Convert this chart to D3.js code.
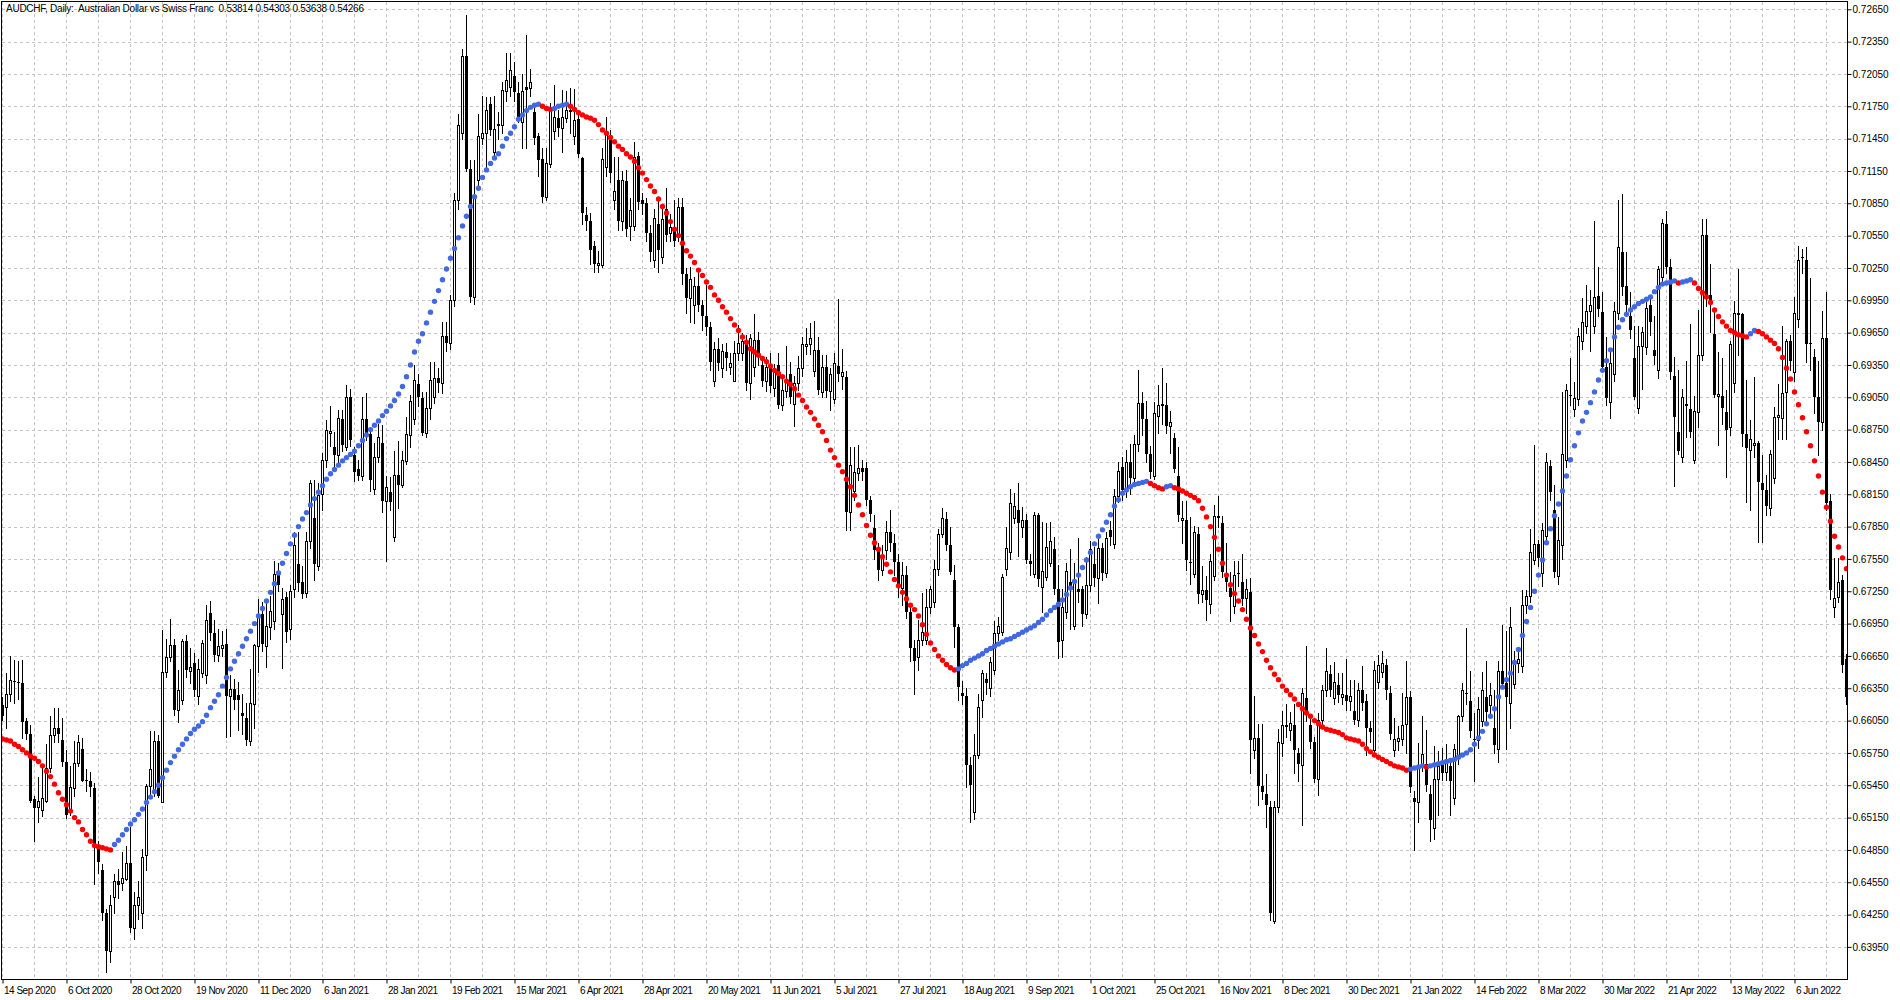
<!DOCTYPE html>
<html>
<head>
<meta charset="utf-8">
<script src="https://cdn.jsdelivr.net/npm/d3@7/dist/d3.min.js"></script>
<style>
html,body{margin:0;padding:0;background:#fff;}
svg{display:block;}
</style>
</head>
<body>
<svg id="chart" width="1900" height="1000"></svg>
<script>
// ---------------- DATA ----------------
const title = "AUDCHF, Daily:  Australian Dollar vs Swiss Franc  0.53814 0.54303 0.53638 0.54266";

// one label every 16 daily bars, starting at bar 0
const dateLabels = ["14 Sep 2020","6 Oct 2020","28 Oct 2020","19 Nov 2020","11 Dec 2020","6 Jan 2021","28 Jan 2021",
  "19 Feb 2021","15 Mar 2021","6 Apr 2021","28 Apr 2021","20 May 2021","11 Jun 2021","5 Jul 2021","27 Jul 2021",
  "18 Aug 2021","9 Sep 2021","1 Oct 2021","25 Oct 2021","16 Nov 2021","8 Dec 2021","30 Dec 2021","21 Jan 2022",
  "14 Feb 2022","8 Mar 2022","30 Mar 2022","21 Apr 2022","13 May 2022","6 Jun 2022"];

const priceTicks = [0.63950,0.64250,0.64550,0.64850,0.65150,0.65450,0.65750,0.66050,0.66350,0.66650,
  0.66950,0.67250,0.67550,0.67850,0.68150,0.68450,0.68750,0.69050,0.69350,0.69650,
  0.69950,0.70250,0.70550,0.70850,0.71150,0.71450,0.71750,0.72050,0.72350,0.72650];

// prices below are quoted in units of 0.0001 (e.g. 6619 = 0.6619)
const open4 = [
6619,6618,6630,6642,6641,6640,6605,6593,6532,6525, 6522,6530,6561,6592,6598,6587,6567,6520,6542,6566,
6579,6550,6549,6542,6486,6466,6426,6391,6441,6456, 6454,6458,6473,6413,6434,6426,6480,6544,6538,6586,
6529,6650,6664,6675,6615,6624,6679,6651,6658,6628, 6649,6647,6705,6686,6666,6672,6676,6628,6634,6629,
6612,6607,6586,6620,6674,6704,6674,6692,6697,6741, 6704,6720,6690,6727,6750,6734,6723,6772,6793,6748,
6815,6847,6872,6859,6851,6885,6859,6905,6851,6838, 6832,6885,6871,6820,6850,6863,6809,6817,6775,6833,
6824,6846,6870,6885,6917,6904,6872,6895,6905,6923, 6918,6962,6955,6995,7088,7150,7222,7117,6998,7107,
7146,7150,7177,7133,7159,7158,7189,7193,7203,7187, 7160,7193,7192,7170,7147,7126,7091,7121,7152,7164,
7155,7164,7172,7147,7163,7127,7074,7069,7045,7028, 7028,7119,7148,7088,7107,7069,7106,7064,7064,7129,
7088,7085,7057,7032,7066,7035,7080,7057,7062,7057, 7082,7019,6997,6991,7008,6991,6980,6970,6920,6950,
6932,6947,6933,6920,6946,6946,6954,6918,6933,6958, 6935,6920,6936,6914,6935,6898,6911,6927,6899,6918,
6932,6953,6954,6929,6949,6910,6933,6911,6903,6934, 6925,6924,6799,6818,6835,6839,6839,6810,6784,6763,
6745,6763,6780,6770,6752,6728,6740,6706,6672,6664, 6680,6680,6710,6715,6746,6778,6792,6768,6735,6692,
6631,6628,6564,6520,6573,6624,6644,6635,6652,6686, 6687,6746,6761,6793,6800,6785,6791,6753,6741,6796,
6729,6738,6751,6764,6727,6680,6706,6734,6693,6727, 6727,6704,6731,6750,6737,6765,6742,6782,6769,6813,
6840,6819,6845,6830,6862,6900,6885,6852,6832,6888, 6899,6898,6878,6867,6832,6791,6791,6752,6741,6778,
6722,6726,6713,6739,6795,6788,6738,6728,6711,6742, 6734,6719,6724,6578,6589,6544,6537,6525,6419,6525,
6584,6600,6596,6601,6575,6564,6626,6601,6585,6551, 6606,6633,6648,6626,6638,6627,6629,6623,6614,6606,
6633,6623,6598,6578,6641,6650,6657,6631,6578,6586, 6588,6602,6627,6533,6529,6563,6565,6537,6505,6551,
6565,6557,6563,6533,6571,6609,6631,6623,6588,6587, 6605,6627,6619,6598,6579,6651,6640,6621,6639,6658,
6656,6712,6721,6754,6769,6742,6776,6841,6800,6739, 6768,6847,6907,6894,6903,6957,6971,6985,6971,6999,
6984,6933,6901,6927,6983,7040,7008,6980,6941,6895, 6953,6952,6991,6949,6930,7017,7066,7026,6925,6873,
6850,6899,6894,6847,6891,6944,7056,7000,6964,6906, 6906,6891,6877,6918,6983,6982,6871,6856,6861,6863,
6825,6819,6802,6830,6887,6886,6910,6957,6928,6978, 7035,7032,6955,6942,6905,6882,6960,6809,6710,6720,
6735,6662];

const high4 = [
6627,6649,6665,6661,6660,6661,6607,6601,6535,6553, 6563,6583,6609,6617,6617,6607,6578,6563,6586,6592,
6589,6560,6557,6547,6493,6472,6430,6443,6463,6467, 6483,6489,6506,6446,6456,6486,6546,6595,6595,6592,
6689,6681,6699,6681,6652,6681,6684,6672,6668,6662, 6680,6712,6716,6698,6690,6688,6690,6647,6644,6641,
6630,6621,6653,6676,6718,6715,6718,6721,6753,6751, 6728,6724,6731,6780,6780,6748,6780,6828,6828,6825,
6853,6884,6897,6873,6893,6893,6916,6913,6859,6847, 6905,6909,6875,6863,6880,6879,6832,6831,6855,6864,
6855,6887,6907,6935,6927,6910,6910,6938,6938,6932, 6975,6975,7000,7095,7168,7228,7260,7125,7125,7168,
7185,7184,7184,7185,7170,7198,7224,7224,7216,7198, 7205,7241,7210,7173,7150,7136,7136,7178,7195,7172,
7190,7189,7192,7191,7170,7128,7082,7076,7050,7041, 7136,7165,7153,7128,7128,7115,7116,7090,7142,7133,
7095,7090,7065,7080,7088,7080,7099,7075,7088,7090, 7090,7025,7026,7017,7025,6995,7009,6975,6956,6960,
6954,6955,6946,6957,6972,6965,6963,6964,6982,6966, 6941,6942,6946,6936,6946,6926,6953,6938,6925,6943,
6961,6969,6974,6976,6961,6944,6944,6932,6946,6996, 6950,6929,6859,6859,6861,6847,6845,6813,6796,6770,
6768,6790,6800,6778,6760,6752,6748,6712,6680,6698, 6723,6727,6730,6754,6783,6802,6799,6785,6749,6695,
6642,6635,6571,6593,6630,6652,6649,6664,6697,6701, 6741,6785,6820,6816,6825,6803,6797,6760,6799,6798,
6789,6788,6789,6775,6749,6727,6751,6764,6751,6774, 6730,6757,6772,6766,6777,6770,6780,6790,6820,6845,
6850,6856,6862,6870,6930,6910,6902,6860,6901,6916, 6932,6918,6892,6872,6859,6809,6809,6794,6786,6785,
6748,6739,6760,6805,6813,6795,6770,6743,6753,6753, 6760,6736,6737,6628,6602,6602,6555,6530,6530,6597,
6614,6620,6613,6620,6580,6635,6674,6611,6590,6612, 6638,6672,6657,6659,6649,6649,6662,6643,6643,6640,
6656,6630,6605,6660,6666,6670,6662,6637,6607,6600, 6631,6660,6632,6540,6584,6609,6596,6545,6581,6577,
6580,6583,6570,6583,6610,6640,6691,6651,6612,6627, 6650,6660,6640,6633,6660,6694,6688,6710,6670,6672,
6726,6726,6783,6861,6773,6788,6853,6847,6824,6794, 6910,6917,6941,6919,6969,6997,7009,7005,7069,7026,
7003,6961,6951,6993,7088,7094,7040,7003,6971,6971, 6970,6996,6996,6980,7027,7070,7078,7033,6942,6930,
6913,6939,6973,6906,6986,7070,7070,7029,6986,6947, 6941,6912,6957,6994,7024,6983,6921,6884,6924,6864,
6851,6833,6856,6896,6917,6971,6959,6963,6998,7045, 7043,7044,7016,6950,6939,6985,7003,6815,6756,6756,
6740,6667];

const low4 = [
6606,6598,6623,6621,6625,6589,6588,6529,6493,6511, 6516,6529,6557,6585,6585,6563,6515,6517,6535,6563,
6549,6540,6535,6453,6464,6420,6372,6381,6426,6440, 6448,6457,6409,6402,6421,6413,6466,6537,6535,6534,
6529,6645,6660,6610,6604,6620,6645,6640,6628,6620, 6645,6640,6680,6660,6660,6665,6590,6591,6616,6596,
6593,6582,6582,6598,6650,6670,6655,6681,6690,6725, 6654,6678,6681,6720,6725,6719,6720,6765,6735,6745,
6800,6840,6860,6840,6845,6855,6856,6860,6827,6828, 6828,6865,6818,6815,6845,6799,6753,6800,6772,6802,
6822,6843,6859,6880,6897,6870,6868,6885,6900,6910, 6909,6948,6950,6990,7080,7145,7115,6993,6992,7100,
7140,7119,7148,7128,7145,7150,7180,7185,7180,7160, 7136,7136,7185,7140,7110,7086,7088,7119,7145,7147,
7133,7160,7150,7140,7128,7066,7060,7029,7021,7021, 7026,7110,7105,7080,7060,7060,7055,7051,7060,7080,
7075,7050,7031,7026,7021,7030,7050,7050,7045,7050, 7010,6983,6975,6974,6985,6967,6963,6930,6915,6930,
6924,6930,6927,6920,6940,6940,6912,6903,6925,6935, 6915,6911,6910,6906,6895,6893,6905,6900,6878,6912,
6925,6945,6945,6925,6908,6905,6905,6893,6900,6920, 6913,6782,6782,6810,6828,6828,6805,6790,6755,6735,
6740,6755,6762,6740,6720,6712,6700,6660,6630,6652, 6675,6676,6705,6710,6740,6775,6763,6741,6673,6624,
6620,6543,6511,6514,6570,6608,6630,6628,6648,6680, 6684,6740,6755,6788,6758,6775,6751,6740,6738,6730,
6706,6735,6748,6722,6663,6664,6700,6690,6690,6715, 6693,6700,6725,6730,6714,6735,6738,6768,6765,6808,
6810,6812,6815,6825,6855,6870,6845,6830,6829,6872, 6880,6872,6853,6836,6790,6770,6745,6732,6738,6714,
6715,6698,6705,6735,6785,6738,6725,6697,6705,6730, 6712,6705,6556,6570,6527,6532,6506,6420,6417,6520,
6572,6590,6587,6556,6549,6508,6605,6580,6548,6536, 6600,6628,6628,6620,6622,6620,6615,6615,6602,6600,
6615,6573,6585,6575,6635,6645,6625,6588,6572,6578, 6582,6575,6539,6485,6511,6558,6540,6493,6495,6517,
6550,6550,6517,6528,6565,6605,6620,6590,6549,6580, 6600,6605,6610,6575,6567,6635,6579,6598,6635,6650,
6650,6705,6715,6750,6748,6730,6770,6810,6738,6732, 6755,6840,6898,6888,6898,6950,6965,6948,6965,6980,
6928,6898,6886,6920,6978,7000,6985,6960,6903,6890, 6913,6945,6963,6936,6923,7010,7020,6922,6823,6852,
6845,6868,6868,6844,6877,6940,6990,6966,6905,6861, 6880,6831,6870,6910,6944,6860,6808,6800,6850,6771,
6771,6796,6796,6825,6866,6866,6866,6930,6920,6970, 7020,6938,6930,6890,6851,6875,6800,6718,6701,6715,
6650,6620];

const close4 = [
6609,6630,6643,6641,6640,6604,6593,6530,6524,6530, 6533,6561,6592,6598,6593,6567,6517,6543,6566,6585,
6549,6549,6543,6489,6474,6426,6391,6434,6456,6452, 6459,6473,6413,6434,6441,6478,6544,6560,6586,6535,
6650,6664,6675,6615,6633,6679,6652,6655,6633,6653, 6677,6698,6686,6666,6674,6675,6628,6634,6624,6624,
6609,6587,6621,6675,6704,6676,6693,6707,6741,6731, 6718,6687,6725,6768,6733,6722,6772,6825,6750,6814,
6847,6875,6874,6851,6886,6861,6905,6865,6836,6832, 6885,6871,6828,6850,6868,6809,6822,6808,6833,6824,
6847,6871,6902,6921,6905,6872,6895,6921,6923,6918, 6962,6955,6995,7088,7158,7222,7117,6998,7090,7147,
7150,7172,7153,7154,7157,7190,7199,7209,7188,7165, 7189,7190,7198,7146,7125,7091,7122,7172,7165,7155,
7165,7172,7170,7162,7131,7076,7069,7042,7029,7030, 7126,7150,7113,7096,7069,7107,7061,7079,7128,7086,
7084,7057,7040,7071,7042,7070,7056,7063,7050,7082, 7019,6997,7015,7008,6991,6980,6970,6938,6950,6937,
6948,6941,6937,6946,6955,6957,6918,6960,6958,6946, 6920,6933,6915,6930,6898,6912,6920,6905,6918,6932,
6954,6954,6960,6949,6912,6933,6911,6927,6937,6927, 6928,6799,6842,6836,6839,6836,6810,6797,6763,6745,
6758,6780,6770,6752,6728,6740,6706,6672,6660,6680, 6687,6710,6727,6746,6778,6793,6768,6743,6692,6636,
6628,6564,6545,6573,6618,6649,6640,6659,6686,6693, 6738,6765,6807,6804,6788,6791,6754,6750,6796,6736,
6744,6766,6772,6727,6678,6710,6744,6728,6735,6724, 6704,6731,6764,6737,6765,6742,6774,6775,6813,6837,
6819,6845,6830,6862,6900,6885,6852,6836,6890,6898, 6897,6878,6882,6838,6796,6793,6754,6751,6780,6722,
6726,6717,6753,6795,6793,6743,6734,6720,6740,6741, 6718,6727,6587,6589,6544,6539,6527,6426,6525,6585,
6601,6601,6603,6578,6565,6631,6611,6585,6551,6606, 6633,6651,6633,6641,6629,6630,6623,6628,6606,6633,
6621,6598,6594,6652,6657,6658,6633,6593,6588,6589, 6601,6627,6543,6529,6563,6574,6545,6513,6551,6563,
6556,6568,6549,6579,6609,6633,6630,6595,6587,6616, 6633,6613,6629,6582,6651,6639,6627,6692,6660,6662,
6712,6721,6761,6769,6756,6782,6845,6817,6743,6773, 6852,6912,6906,6904,6962,6975,6985,6991,6998,6987,
6933,6904,6937,6985,7044,7007,6991,6967,6905,6953, 6966,6988,6975,6943,7024,7067,7026,6928,6887,6855,
6905,6897,6873,6892,6944,7056,6999,6994,6907,6908, 6895,6875,6954,6983,6981,6871,6858,6866,6863,6826,
6819,6804,6852,6887,6889,6909,6957,6939,6983,7032, 7034,6954,6954,6905,6882,6960,6807,6726,6719,6734,
6657,6627];

// smoothed moving average drawn as dots (blue while rising, red while falling)
const ma4 = [
6588,6587,6586,6583,6581,6578,6575,6572,6570,6567, 6563,6558,6553,6546,6538,6532,6527,6521,6515,6511,
6504,6499,6493,6489,6488,6487,6486,6485,6490,6494, 6499,6504,6509,6513,6518,6523,6529,6534,6539,6545,
6552,6559,6566,6572,6578,6583,6588,6593,6597,6600, 6604,6610,6617,6623,6629,6637,6645,6653,6660,6667,
6674,6681,6688,6695,6702,6709,6716,6724,6732,6742, 6751,6760,6769,6777,6785,6792,6798,6805,6811,6817,
6823,6829,6834,6838,6842,6846,6849,6852,6855,6860, 6865,6870,6875,6879,6883,6888,6892,6897,6902,6908,
6915,6924,6935,6947,6957,6964,6974,6984,6994,7004, 7014,7024,7034,7043,7053,7064,7073,7082,7091,7099,
7109,7116,7122,7127,7131,7138,7145,7150,7156,7163, 7167,7171,7174,7176,7177,7175,7173,7172,7173,7175,
7176,7177,7175,7172,7169,7167,7165,7164,7162,7158, 7153,7150,7146,7142,7138,7135,7131,7128,7124,7118,
7113,7107,7101,7096,7089,7082,7076,7068,7061,7055, 7048,7041,7036,7030,7023,7018,7012,7007,7000,6995,
6989,6984,6978,6972,6967,6961,6956,6950,6947,6944, 6941,6938,6934,6930,6927,6924,6920,6917,6913,6907,
6902,6896,6891,6885,6879,6873,6865,6856,6849,6842, 6836,6829,6822,6814,6805,6796,6786,6777,6770,6764,
6757,6750,6743,6736,6730,6724,6718,6712,6708,6702, 6694,6685,6677,6671,6665,6661,6657,6654,6652,6653,
6656,6658,6661,6663,6665,6667,6670,6672,6674,6676, 6678,6680,6681,6683,6685,6687,6689,6691,6693,6696,
6699,6703,6707,6710,6713,6717,6722,6728,6734,6740, 6747,6754,6761,6769,6776,6782,6789,6796,6804,6810,
6816,6819,6822,6824,6825,6826,6827,6825,6823,6821, 6820,6822,6823,6821,6820,6818,6816,6814,6812,6809,
6802,6794,6785,6775,6764,6751,6740,6731,6723,6716, 6708,6699,6691,6684,6676,6669,6661,6654,6648,6643,
6637,6633,6629,6625,6620,6616,6612,6609,6605,6602, 6599,6597,6596,6595,6594,6592,6589,6588,6587,6586,
6583,6579,6576,6573,6571,6569,6567,6565,6563,6562, 6561,6559,6560,6561,6562,6563,6562,6563,6564,6565,
6566,6567,6568,6569,6571,6573,6575,6578,6583,6589, 6595,6602,6609,6616,6627,6636,6643,6649,6659,6671,
6684,6697,6710,6725,6740,6754,6770,6783,6795,6806, 6818,6832,6847,6860,6872,6883,6891,6900,6910,6921,
6930,6939,6949,6961,6970,6977,6982,6986,6989,6992, 6994,6996,6998,7003,7007,7010,7011,7012,7013,7011,
7012,7013,7014,7011,7006,7002,6998,6993,6986,6980, 6975,6971,6967,6965,6963,6962,6961,6964,6967,6966,
6964,6961,6958,6955,6950,6942,6932,6922,6910,6898, 6886,6873,6860,6846,6832,6817,6803,6790,6776,6766,
6756,6746];

// ---------------- DRAWING ----------------
const N = close4.length;
const toPrice = v => v / 10000;
const FONT = "'Liberation Sans', Arial, sans-serif";
const upColor = "#4169e1", downColor = "#ff0000";

const svg = d3.select("#chart");
const L = 1.5, T = 1.5, R = 1847.5, B = 979.5;

const x = d3.scaleLinear().domain([0, N - 1]).range([2.5, 2.5 + 4 * (N - 1)]);
const y = d3.scaleLinear().domain([0.6395, 0.7265]).range([946.9, 9.3]);

svg.append("rect").attr("width", 1900).attr("height", 1000).attr("fill", "#fff");

svg.append("defs").append("clipPath").attr("id", "clip")
  .append("rect").attr("x", L + 0.5).attr("y", T + 0.5).attr("width", R - L - 1).attr("height", B - T - 1);

// grid
const grid = svg.append("g").attr("clip-path", "url(#clip)")
  .attr("stroke", "#c3c3c3").attr("stroke-width", 1).attr("stroke-dasharray", "3,3")
  .attr("shape-rendering", "crispEdges");
grid.selectAll("line.h").data(priceTicks).join("line").attr("class", "h")
  .attr("x1", L).attr("x2", R)
  .attr("y1", d => Math.round(y(d)) + 0.5).attr("y2", d => Math.round(y(d)) + 0.5);
const vIdx = d3.range(0, N, 8);
grid.selectAll("line.v").data(vIdx).join("line").attr("class", "v")
  .attr("x1", d => x(d)).attr("x2", d => x(d))
  .attr("y1", T).attr("y2", B);

// candles
const cg = svg.append("g").attr("clip-path", "url(#clip)").attr("shape-rendering", "crispEdges");
const bars = d3.range(N).map(i => {
  const o = toPrice(open4[i]), c = toPrice(close4[i]);
  const h = toPrice(Math.max(high4[i], open4[i], close4[i]));
  const l = toPrice(Math.min(low4[i], open4[i], close4[i]));
  return {i, o, h, l, c, up: c >= o};
});
cg.selectAll("line.wick").data(bars).join("line").attr("class", "wick")
  .attr("x1", d => x(d.i)).attr("x2", d => x(d.i))
  .attr("y1", d => Math.round(y(d.h))).attr("y2", d => Math.round(y(d.l)) + 1)
  .attr("stroke", "#000").attr("stroke-width", 1);
cg.selectAll("rect.body").data(bars).join("rect").attr("class", "body")
  .each(function(d) {
    const top = Math.round(y(Math.max(d.o, d.c)));
    const bot = Math.round(y(Math.min(d.o, d.c)));
    const s = d3.select(this);
    if (d.up) {
      s.attr("x", x(d.i) - 1).attr("y", top + 0.5).attr("width", 2).attr("height", Math.max(bot - top, 0))
       .attr("fill", "#fff").attr("stroke", "#000").attr("stroke-width", 1);
    } else {
      s.attr("x", x(d.i) - 1.5).attr("y", top).attr("width", 3).attr("height", Math.max(bot - top, 1))
       .attr("fill", "#000").attr("stroke", "none");
    }
  });

// moving average dots
let prevColor = ma4[1] >= ma4[0] ? upColor : downColor;
const dots = ma4.map((v, i) => {
  let col = prevColor;
  if (i > 0) {
    if (v > ma4[i - 1]) col = upColor;
    else if (v < ma4[i - 1]) col = downColor;
  }
  prevColor = col;
  return {i, v: toPrice(v), col};
});
svg.append("g").attr("clip-path", "url(#clip)")
  .selectAll("circle").data(dots).join("circle")
  .attr("cx", d => x(d.i)).attr("cy", d => y(d.v)).attr("r", 2.7)
  .attr("fill", d => d.col);

// frame
svg.append("rect").attr("x", L).attr("y", T).attr("width", R - L).attr("height", B - T)
  .attr("fill", "none").attr("stroke", "#000").attr("stroke-width", 1).attr("shape-rendering", "crispEdges");

// right price axis
const yAxis = d3.axisRight(y).tickValues(priceTicks).tickSize(4).tickFormat(d3.format(".5f"));
svg.append("g").attr("transform", `translate(${R},0)`).call(yAxis)
  .attr("font-family", FONT).attr("font-size", 10)
  .call(g => g.select(".domain").remove())
  .call(g => g.selectAll("line").attr("stroke", "#000"))
  .call(g => g.selectAll("text").attr("x", 5).attr("fill", "#000"));

// bottom date axis
const labelBars = dateLabels.map((_, k) => k * 16);
const xAxis = d3.axisBottom(x).tickValues(labelBars).tickSize(4).tickFormat((d, k) => dateLabels[k]);
svg.append("g").attr("transform", `translate(0,${B})`).call(xAxis)
  .attr("font-family", FONT).attr("font-size", 10).attr("text-anchor", "start")
  .call(g => g.select(".domain").remove())
  .call(g => g.selectAll("line").attr("stroke", "#000"))
  .call(g => g.selectAll("text").attr("x", 1).attr("fill", "#000").attr("letter-spacing", "-0.5px"));

// title
svg.append("text").attr("x", 6).attr("y", 12)
  .attr("font-family", FONT).attr("font-size", 10).attr("fill", "#000")
  .attr("letter-spacing", "-0.25px")
  .attr("xml:space", "preserve").style("white-space", "pre")
  .text(title);
</script>
</body>
</html>
